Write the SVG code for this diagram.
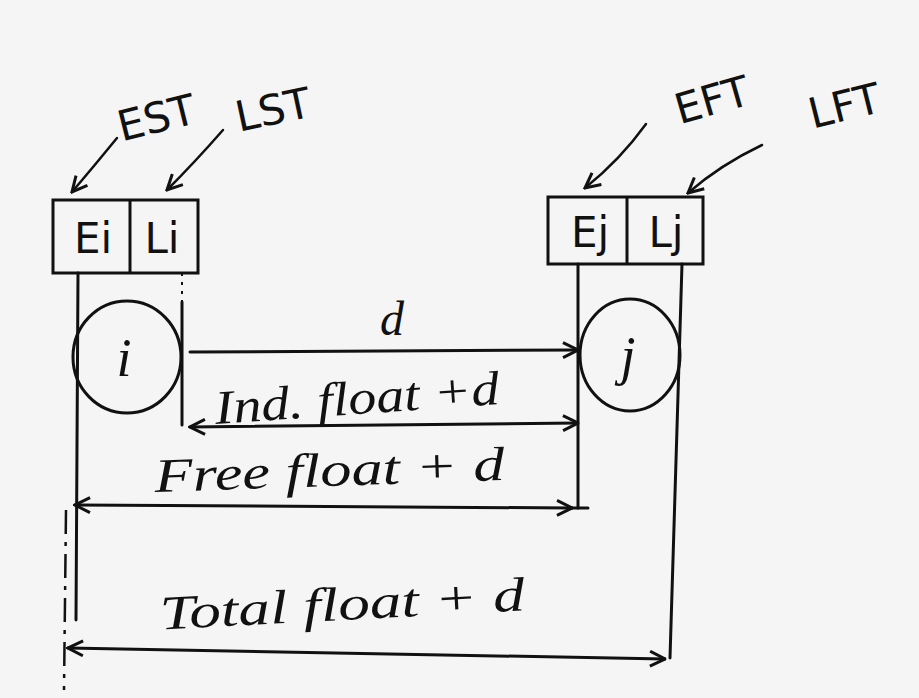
<svg xmlns="http://www.w3.org/2000/svg" width="919" height="698" viewBox="0 0 919 698">
<defs>
<marker id="ah" viewBox="0 0 12 12" refX="11" refY="6" markerWidth="18" markerHeight="18" markerUnits="userSpaceOnUse" orient="auto-start-reverse">
<path d="M1,1 L11,6 L1,11" fill="none" stroke="#111" stroke-width="2"/>
</marker>
</defs>
<style>
.ln{fill:none;stroke:#111;stroke-width:3;stroke-linecap:round}
.thin{fill:none;stroke:#111;stroke-width:2.5;stroke-linecap:round}
.dash{fill:none;stroke:#111;stroke-width:2.5;stroke-dasharray:24 8 4 8}
.dot{fill:none;stroke:#111;stroke-width:2;stroke-dasharray:3 6}
.box{fill:none;stroke:#111;stroke-width:3}
.cell{font-family:"DejaVu Sans",sans-serif;font-size:42px;fill:#111;text-anchor:middle}
.tag{font-family:"DejaVu Sans",sans-serif;font-size:42px;fill:#111;text-anchor:middle}
.hand{font-family:"Liberation Serif",serif;font-style:italic;font-size:48px;fill:#111;text-anchor:middle}
.nd{font-family:"Liberation Serif",serif;font-style:italic;font-size:54px;fill:#111;text-anchor:middle}
</style>
<rect width="919" height="698" fill="#f5f5f5"/>

<g id="label-EST"><text class="tag" transform="translate(160,132) rotate(-14)">EST</text></g>
<g id="label-LST"><text class="tag" transform="translate(276,124) rotate(-12)">LST</text></g>
<g id="label-EFT"><text class="tag" transform="translate(716,114) rotate(-16)">EFT</text></g>
<g id="label-LFT"><text class="tag" transform="translate(848,120) rotate(-14)">LFT</text></g>

<g id="box-i">
<rect class="box" x="53" y="200" width="145" height="73"/>
<line class="box" x1="130" y1="200" x2="130" y2="273"/>
<text class="cell" x="93" y="253">Ei</text>
<text class="cell" x="162" y="253">Li</text>
</g>

<g id="box-j">
<rect class="box" x="548" y="197" width="155" height="67"/>
<line class="box" x1="627" y1="197" x2="627" y2="264"/>
<text class="cell" x="590" y="247">Ej</text>
<text class="cell" x="666" y="247">Lj</text>
</g>

<g id="node-i">
<ellipse class="ln" cx="127" cy="357" rx="54" ry="56"/>
<text class="nd" x="124" y="376">i</text>
</g>

<g id="node-j">
<ellipse class="ln" cx="630" cy="355" rx="50" ry="56"/>
<text class="nd" x="628" y="374">j</text>
</g>

<g id="connectors">
<path class="thin" d="M117,138 Q95,165 72,192" marker-end="url(#ah)"/>
<path class="thin" d="M223,130 Q195,162 167,190" marker-end="url(#ah)"/>
<path class="thin" d="M646,124 Q620,160 585,188" marker-end="url(#ah)"/>
<path class="thin" d="M762,145 Q720,165 688,193" marker-end="url(#ah)"/>

<line class="ln" x1="78" y1="273" x2="76" y2="620"/>
<line class="dash" x1="66" y1="510" x2="64" y2="690"/>
<line class="dot" x1="182" y1="273" x2="182" y2="302"/>
<line class="ln" x1="182" y1="302" x2="182" y2="425"/>
<line class="ln" x1="578" y1="264" x2="578" y2="508"/>
<line class="ln" x1="682" y1="264" x2="670" y2="658"/>

<line class="ln" x1="190" y1="352" x2="578" y2="350" marker-end="url(#ah)"/>
<text class="hand" x="392" y="335">d</text>

<line class="ln" x1="190" y1="427" x2="578" y2="423" marker-start="url(#ah)" marker-end="url(#ah)"/>
<text class="hand" transform="translate(358,414) rotate(-4)" textLength="285" lengthAdjust="spacingAndGlyphs">Ind. float +d</text>

<line class="ln" x1="75" y1="505" x2="572" y2="508" marker-start="url(#ah)" marker-end="url(#ah)"/>
<line class="ln" x1="572" y1="508" x2="588" y2="508"/>
<text class="hand" transform="translate(330,486) rotate(-2)" textLength="350" lengthAdjust="spacingAndGlyphs">Free float + d</text>

<line class="ln" x1="68" y1="648" x2="665" y2="659" marker-start="url(#ah)" marker-end="url(#ah)"/>
<text class="hand" transform="translate(343,620) rotate(-3)" textLength="365" lengthAdjust="spacingAndGlyphs">Total float + d</text>
</g>
</svg>
